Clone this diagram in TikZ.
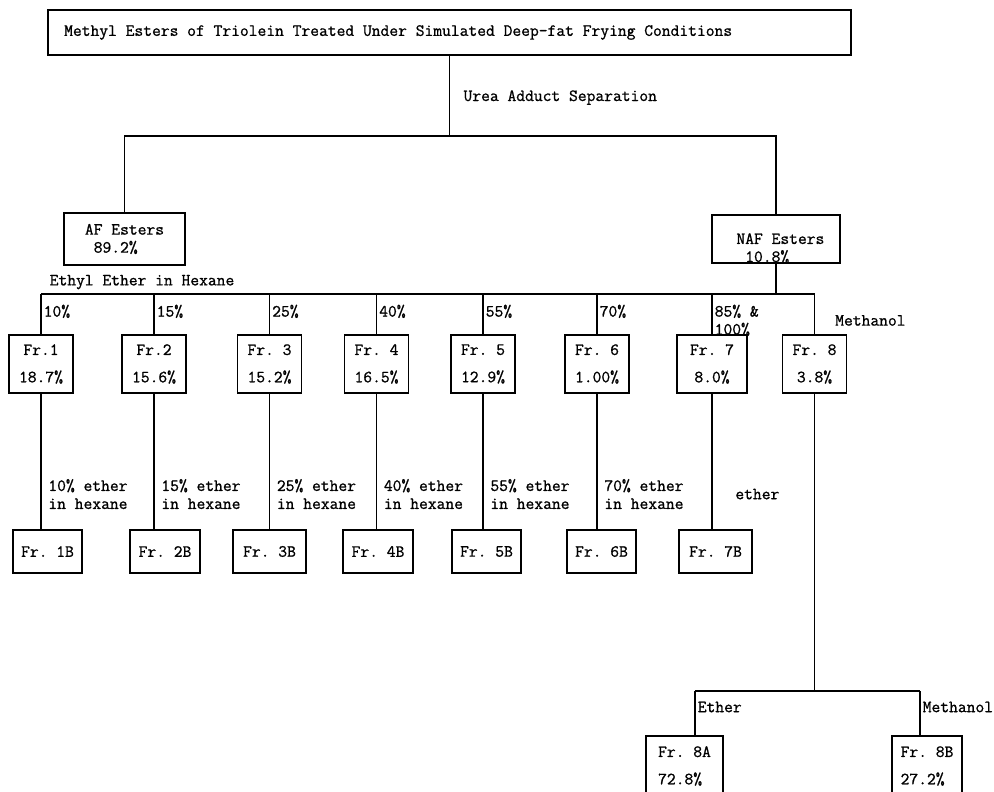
\documentclass[tikz,border=0pt]{standalone}
\usepackage{fontspec}
\newfontfamily\typewr{Latin Modern Mono}[FakeBold=1]
\DeclareRobustCommand\typewrfont{\typewr\fontsize{12.8}{13.5}\selectfont\frenchspacing}
\usepackage{tikz}

\begin{document}
\begin{tikzpicture}
	[
		x=0.75pt, y=-0.75pt,
		every node/.style = {font=\typewrfont, inner sep=2pt},
		esterbox/.style = {draw, line width=1.4pt, align=center},
		fracbox/.style = {esterbox, minimum width=48pt, minimum height=43.5pt},
		subbox/.style = {esterbox, minimum width=52pt, minimum height=32pt},
		link/.style = {line width=1.1pt},
		pctlbl/.style = {pos=0, anchor=north west, align=left, inner sep=1.5pt, yshift=-6pt},
		dlbl/.style = {pos=0.74, anchor=west, align=left, xshift=3pt},
	]

  \useasboundingbox (0,0) rectangle (994,791);
  \clip (0,0) rectangle (994,791);

  % feed and urea adduct separation
  \node[esterbox, minimum height=33.75pt, inner xsep=12pt] (ttl) at (449.5,32.5)
  	{\makebox[578pt][l]{Methyl Esters of Triolein Treated Under Simulated Deep-fat Frying Conditions}};
  \node[esterbox, minimum width=90.75pt, minimum height=39pt, align=left] (af) at (124.5,239)
  	{AF Esters\\\hspace*{6.6pt}89.2\%};
  \node[esterbox, minimum width=96pt, minimum height=36pt, inner ysep=0pt, align=left] (naf) at (776,239)
  	{\rule{0pt}{22pt}\hspace*{6.6pt}NAF Esters\\\hspace*{13.2pt}10.8\%};

  \coordinate (bus1) at (0,136);
  \coordinate (bus2) at (0,294);
  \coordinate (bus3) at (0,691);

  % column fractions
  \node[fracbox] (fr1) at (41,364) {Fr.1\\[7pt]18.7\%};
  \node[fracbox] (fr2) at (154,364) {Fr.2\\[7pt]15.6\%};
  \node[fracbox] (fr3) at (269.5,364) {Fr. 3\\[7pt]15.2\%};
  \node[fracbox] (fr4) at (376.5,364) {Fr. 4\\[7pt]16.5\%};
  \node[fracbox] (fr5) at (483,364) {Fr. 5\\[7pt]12.9\%};
  \node[fracbox] (fr6) at (597,364) {Fr. 6\\[7pt]1.00\%};
  \node[fracbox, minimum width=52.5pt] (fr7) at (712,364) {Fr. 7\\[7pt]8.0\%};
  \node[fracbox] (fr8) at (814.5,364) {Fr. 8\\[7pt]3.8\%};

  % rechromatographed fractions
  \node[subbox] (fr1b) at (47.5,551.5) {Fr. 1B};
  \node[subbox] (fr2b) at (165,551.5) {Fr. 2B};
  \node[subbox, minimum width=54.75pt] (fr3b) at (269.5,551.5) {Fr. 3B};
  \node[subbox] (fr4b) at (378,551.5) {Fr. 4B};
  \node[subbox] (fr5b) at (486.5,551.5) {Fr. 5B};
  \node[subbox] (fr6b) at (601.5,551.5) {Fr. 6B};
  \node[subbox, minimum width=54.75pt] (fr7b) at (715.5,551.5) {Fr. 7B};

  \node[fracbox, minimum width=58pt, minimum height=45pt, align=left] (fr8a) at (684.5,766) {Fr. 8A\\[7pt]72.8\%};
  \node[fracbox, minimum width=52.5pt, minimum height=45pt, align=left] (fr8b) at (927,766) {Fr. 8B\\[7pt]27.2\%};

  \draw[link] (ttl.south) -- node[dlbl, pos=0.52, xshift=5pt] {Urea Adduct Separation} (ttl.south |- bus1);
  \draw[link] (af.north) -- (af.north |- bus1) -- (naf.north |- bus1) -- (naf.north);
  \draw[link] (naf.south) -- (naf.south |- bus2);
  \draw[link] (fr1.north |- bus2) -- node[pos=0, anchor=south west, xshift=4pt, yshift=1pt] {Ethyl Ether in Hexane} (fr8.north |- bus2);

  \path[link]
  (fr1.north |- bus2) edge node[pctlbl] {10\%} (fr1.north)
  (fr2.north |- bus2) edge node[pctlbl] {15\%} (fr2.north)
  (fr3.north |- bus2) edge node[pctlbl] {25\%} (fr3.north)
  (fr4.north |- bus2) edge node[pctlbl] {40\%} (fr4.north)
  (fr5.north |- bus2) edge node[pctlbl] {55\%} (fr5.north)
  (fr6.north |- bus2) edge node[pctlbl] {70\%} (fr6.north)
  (fr7.north |- bus2) edge node[pctlbl] {85\% \&\\100\%} (fr7.north)
  (fr8.north |- bus2) edge node[dlbl, pos=0.66, xshift=10pt] {Methanol} (fr8.north);

  \path[link]
  (fr1.south) edge node[dlbl] {10\% ether\\in hexane} (fr1.south |- fr1b.north)
  (fr2.south) edge node[dlbl] {15\% ether\\in hexane} (fr2.south |- fr2b.north)
  (fr3.south) edge node[dlbl] {25\% ether\\in hexane} (fr3.south |- fr3b.north)
  (fr4.south) edge node[dlbl] {40\% ether\\in hexane} (fr4.south |- fr4b.north)
  (fr5.south) edge node[dlbl] {55\% ether\\in hexane} (fr5.south |- fr5b.north)
  (fr6.south) edge node[dlbl] {70\% ether\\in hexane} (fr6.south |- fr6b.north)
  (fr7.south) edge node[dlbl, xshift=12pt] {ether} (fr7.south |- fr7b.north);

  \draw[link] (fr8.south) -- (fr8.south |- bus3);
  \draw[link] ([xshift=7.9pt]fr8a.north |- bus3) -- ([xshift=-5.25pt]fr8b.north |- bus3);
  \path[link]
  ([xshift=7.9pt]fr8a.north |- bus3) edge node[pctlbl] {Ether} ([xshift=7.9pt]fr8a.north)
  ([xshift=-5.25pt]fr8b.north |- bus3) edge node[pctlbl] {Methanol} ([xshift=-5.25pt]fr8b.north);

\end{tikzpicture}
\end{document}
